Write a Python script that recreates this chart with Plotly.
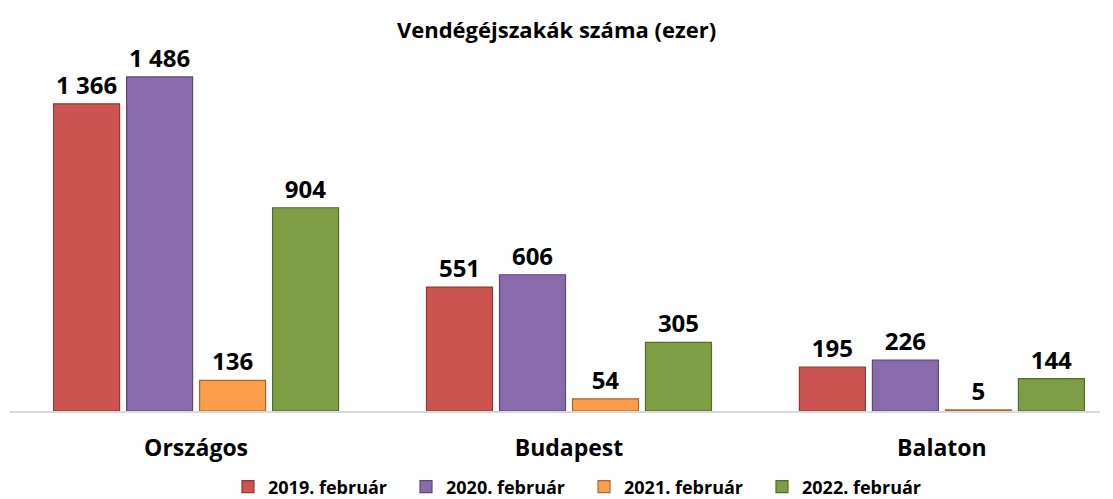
import plotly.graph_objects as go

categories = ["Országos", "Budapest", "Balaton"]
series_names = ["2019. február", "2020. február", "2021. február", "2022. február"]
v2019 = [1366, 551, 195]
v2020 = [1486, 606, 226]
v2021 = [136, 54, 5]
v2022 = [904, 305, 144]
values = [v2019, v2020, v2021, v2022]
colors = ["#CB5451", "#886BAC", "#FB9D4A", "#7E9D44"]
edges = ["#8E3A38", "#5C4876", "#A86A33", "#566C2E"]

FONT = "Open Sans"

fig = go.Figure()
for name, vals, c, e in zip(series_names, values, colors, edges):
    fig.add_trace(go.Bar(
        x=categories, y=vals, name=name,
        marker=dict(color=c, line=dict(color=e, width=1.2)),
        texttemplate="%{y:,}", textposition="outside",
        textfont=dict(family=FONT, size=24, color="#000000", weight="bold"),
        cliponaxis=False,
    ))

fig.update_layout(
    width=1113, height=499,
    separators=", ",
    barmode="group", bargap=0.217, bargroupgap=0.096,
    plot_bgcolor="white", paper_bgcolor="white",
    margin=dict(l=10, r=13, t=40, b=88, autoexpand=False),
    title=dict(text="<b>Vendégéjszakák száma (ezer)</b>", x=0.5, xanchor="center",
               y=0.94, yanchor="middle",
               font=dict(family=FONT, size=22, color="#000000")),
    font=dict(family=FONT, color="#000000"),
    showlegend=True,
    legend=dict(orientation="h", x=0.2, xanchor="left", yref="container", y=0.024,
                yanchor="middle",
                font=dict(family=FONT, size=18, color="#000000", weight="bold"),
                itemwidth=30, entrywidth=133, traceorder="normal"),
)
fig.update_xaxes(range=[-0.499, 2.424], showline=True, linecolor="#D9D9D9", linewidth=1.5,
                 ticks="outside", ticklen=16, tickcolor="rgba(0,0,0,0)",
                 tickfont=dict(family=FONT, size=23, color="#000000", weight="bold"),
                 showgrid=False, fixedrange=True, automargin=False)
fig.update_yaxes(range=[0, 1650], visible=False, showgrid=False, zeroline=False, fixedrange=True)

fig.write_html("out.html", config={"displayModeBar": False},
               post_script="document.body.style.margin='0';document.body.style.padding='0';")
